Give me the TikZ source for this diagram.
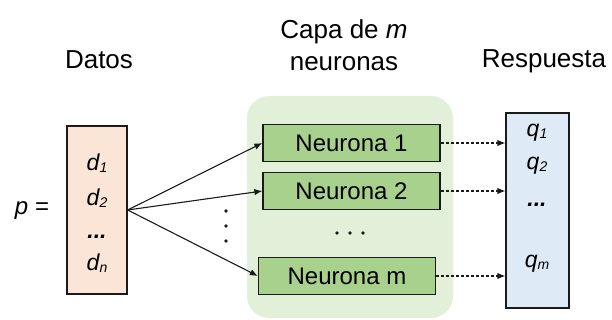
\documentclass[tikz,border=0pt]{standalone}
\usepackage{fontspec}
\setmainfont{Liberation Sans}
\usepackage{xcolor}
\usetikzlibrary{arrows.meta}

\definecolor{datofill}{HTML}{FBE5D6}
\definecolor{respfill}{HTML}{DEEBF7}
\definecolor{capafill}{HTML}{E2F0D9}
\definecolor{neurofill}{HTML}{A9D18E}
\definecolor{borde}{HTML}{1A1A1A}

\newcommand{\sub}[1]{\raisebox{-2pt}{\fontsize{14}{16}\selectfont\itshape #1}}

\begin{document}
\begin{tikzpicture}[x=1pt, y=-1pt,
    caja/.style={draw=borde, line width=1.3pt, inner sep=0pt},
    neurona/.style={caja, fill=neurofill, minimum width=177pt, minimum height=37pt,
        font=\fontsize{24}{28}\selectfont},
    titulo/.style={font=\fontsize{26}{32}\selectfont, align=center},
    valor/.style={font=\fontsize{23}{26}\selectfont\itshape},
    flecha/.style={-{Latex[length=8pt,width=6.5pt]}, line width=1.1pt, draw=borde},
    flechap/.style={flecha, densely dashed}]
    \useasboundingbox (0,0) rectangle (612,320);

    % titles
    \node [titulo, anchor=base] (tdatos) at (99,69) {Datos};
    \node [titulo] (tcapa) at (344,45) {Capa de \textit{m}\\neuronas};
    \node [titulo, anchor=base] (tresp) at (544,68) {Respuesta};

    % input vector
    \node [font=\fontsize{24}{28}\selectfont] (p) at (32,211) {\textit{p} =};
    \node [caja, fill=datofill, minimum width=60pt, minimum height=168pt] (datos) at (97,210) {};
    \node [valor] (d1) at (97,163) {d\sub{1}};
    \node [valor] (d2) at (97,198) {d\sub{2}};
    \node [valor, anchor=base] (dd) at (97,238) {\bfseries ...};
    \node [valor] (dn) at (97,263) {d\sub{n}};

    % layer
    \node [fill=capafill, rounded corners=22pt, minimum width=206pt, minimum height=222pt] (capa) at (350,207) {};
    \node [neurona] (n1) at (351.5,143) {Neurona 1};
    \node [neurona] (n2) at (351.5,191) {Neurona 2};
    \node [neurona] (nm) at (347,276) {Neurona m};
    \foreach \x in {337,350,363}
        \fill [borde] (\x,233) circle [radius=1.9];
    \foreach \y in {211,226,241}
        \fill [borde] (226,\y) circle [radius=1.9];

    % output vector
    \node [caja, fill=respfill, minimum width=63pt, minimum height=195pt] (resp) at (537.5,210.5) {};
    \node [valor] (q1) at (537,133) {q\sub{1}};
    \node [valor] (q2) at (537,166) {q\sub{2}};
    \node [valor, anchor=base] (qd) at (537,207) {\bfseries ...};
    \node [valor] (qm) at (537,264) {q\sub{m}};

    % connections
    \draw [flecha] (datos.east) -- (n1.west);
    \draw [flecha] (datos.east) -- (n2.west);
    \draw [flecha] (datos.east) -- (nm.west);
    \draw [flechap] (n1.east) -- (n1.east -| resp.west);
    \draw [flechap] (n2.east) -- (n2.east -| resp.west);
    \draw [flechap] (nm.east) -- (nm.east -| resp.west);
\end{tikzpicture}
\end{document}
